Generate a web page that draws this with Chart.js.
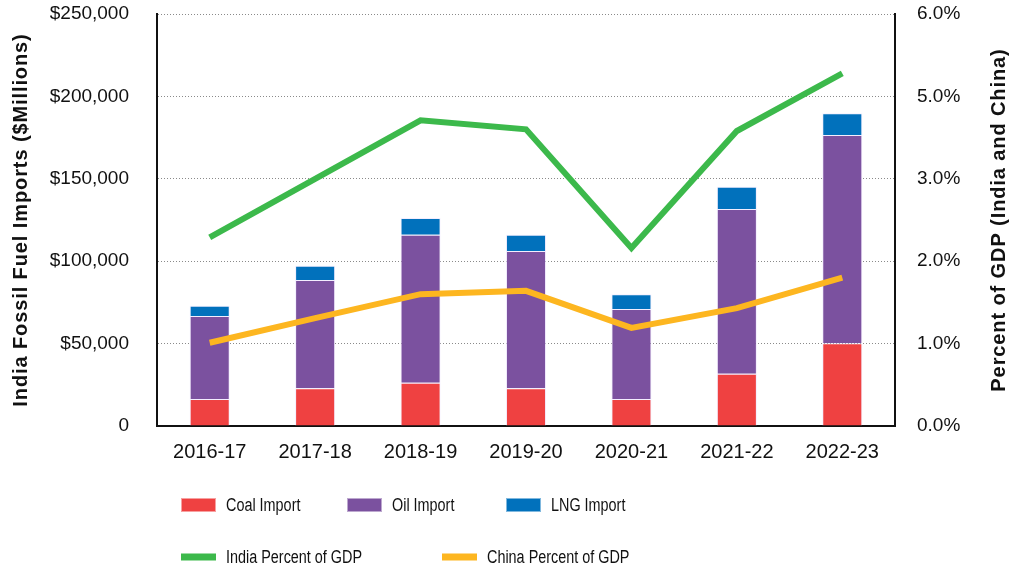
<!DOCTYPE html>
<html>
<head>
<meta charset="utf-8">
<script src="https://cdn.jsdelivr.net/npm/chart.js@4/dist/chart.umd.min.js"></script>
<style>
  html, body { margin: 0; padding: 0; background: #fff; }
  canvas { display: block; }
</style>
</head>
<body>
<canvas id="fuelChart" width="1024" height="575"></canvas>
<script>
// data
const years = ['2016-17', '2017-18', '2018-19', '2019-20', '2020-21', '2021-22', '2022-23']
const coalImport = [16400, 22900, 26300, 22900, 16400, 31700, 50200]
const oilImport = [50300, 65700, 89800, 83300, 54600, 100000, 126400]
const lngImport = [6300, 8700, 10100, 9900, 8900, 13500, 13100]
// right axis is in gridline steps (its labels skip 4.0%)
const indiaGdp = [2.29, 3.0, 3.71, 3.60, 2.16, 3.58, 4.28]
const chinaGdp = [1.01, 1.31, 1.60, 1.64, 1.19, 1.43, 1.80]
const rightTickLabels = ['0.0%', '1.0%', '2.0%', '3.0%', '5.0%', '6.0%']
const leftTitle = 'India Fossil Fuel Imports ($Millions)'
const rightTitle = 'Percent of GDP (India and China)'

const FONT = "'Liberation Sans', Arial, Helvetica, sans-serif"

// start: legend + titles plugin (two legend rows, fixed slots like the original)
const legendSlots = [
    { x: 181, y: 505 },
    { x: 347, y: 505 },
    { x: 506, y: 505 },
    { x: 181, y: 557 },
    { x: 442, y: 557 },
]

function drawVerticalTitle(ctx, text, x, y) {
    ctx.save()
    ctx.translate(x, y)
    ctx.rotate(-Math.PI / 2)
    ctx.fillStyle = '#111'
    ctx.font = 'bold 20px ' + FONT
    ctx.letterSpacing = '0.9px'
    ctx.textAlign = 'center'
    ctx.textBaseline = 'alphabetic'
    ctx.fillText(text, 0, 0)
    ctx.restore()
}

const rowLegend = {
    id: 'rowLegend',
    afterDraw(chart) {
        const ctx = chart.ctx
        ctx.save()
        chart.data.datasets.forEach(function (ds, i) {
            const slot = legendSlots[i]
            if (ds.type === 'line') {
                ctx.fillStyle = ds.borderColor
                ctx.fillRect(slot.x, slot.y - 3.5, 35, 7)
            } else {
                ctx.fillStyle = ds.backgroundColor
                ctx.fillRect(slot.x, slot.y - 7, 35, 14)
                ctx.strokeStyle = 'rgba(255,255,255,0.5)'
                ctx.lineWidth = 1
                ctx.strokeRect(slot.x + 0.5, slot.y - 6.5, 34, 13)
            }
            ctx.save()
            ctx.translate(slot.x + 45, slot.y)
            ctx.scale(0.8, 1)
            ctx.fillStyle = '#111'
            ctx.font = '18px ' + FONT
            ctx.textBaseline = 'middle'
            ctx.textAlign = 'left'
            ctx.fillText(ds.label, 0, 1)
            ctx.restore()
        })
        ctx.restore()

        // both axis titles read bottom-to-top in the original
        const midY = (chart.chartArea.top + chart.chartArea.bottom) / 2
        drawVerticalTitle(ctx, leftTitle, 27, midY)
        drawVerticalTitle(ctx, rightTitle, 1005, midY)
    }
}
// end: legend + titles plugin

const barBorder = 'rgba(235,225,255,0.6)'

new Chart(document.getElementById('fuelChart'), {
    type: 'bar',
    data: {
        labels: years,
        datasets: [
            {
                label: 'Coal Import',
                data: coalImport,
                backgroundColor: '#ef4141',
                borderColor: barBorder,
                borderWidth: 1,
                yAxisID: 'y',
                order: 2
            },
            {
                label: 'Oil Import',
                data: oilImport,
                backgroundColor: '#7b519f',
                borderColor: barBorder,
                borderWidth: 1,
                yAxisID: 'y',
                order: 2
            },
            {
                label: 'LNG Import',
                data: lngImport,
                backgroundColor: '#0171bc',
                borderColor: barBorder,
                borderWidth: 1,
                yAxisID: 'y',
                order: 2
            },
            {
                type: 'line',
                label: 'India Percent of GDP',
                data: indiaGdp,
                borderColor: '#3cb94b',
                backgroundColor: '#3cb94b',
                borderWidth: 6,
                pointRadius: 0,
                tension: 0,
                yAxisID: 'y1',
                order: 0
            },
            {
                type: 'line',
                label: 'China Percent of GDP',
                data: chinaGdp,
                borderColor: '#fdb620',
                backgroundColor: '#fdb620',
                borderWidth: 6,
                pointRadius: 0,
                tension: 0,
                yAxisID: 'y1',
                order: 1
            },
        ]
    },
    options: {
        responsive: false,
        animation: false,
        devicePixelRatio: 1,
        datasets: {
            bar: {
                categoryPercentage: 1,
                barPercentage: 0.38
            }
        },
        layout: {
            padding: { top: 14, left: 0, right: 0, bottom: 0 }
        },
        plugins: {
            legend: { display: false },
            tooltip: { enabled: false }
        },
        scales: {
            x: {
                stacked: true,
                grid: { display: false, drawTicks: false },
                border: { display: true, color: '#111', width: 2 },
                ticks: {
                    color: '#111',
                    font: { family: FONT, size: 20 },
                    padding: 14,
                    maxRotation: 0
                },
                afterFit(scale) { scale.height = 149 }
            },
            y: {
                position: 'left',
                stacked: true,
                min: 0,
                max: 250000,
                grid: {
                    color: '#8a8a8a',
                    lineWidth: 1,
                    drawTicks: true,
                    tickLength: 28,
                    tickColor: 'rgba(0,0,0,0)'
                },
                border: { display: true, color: '#111', width: 2, dash: [1, 2] },
                ticks: {
                    stepSize: 50000,
                    color: '#111',
                    font: { family: FONT, size: 19 },
                    padding: 0,
                    callback: function (v) {
                        return v === 0 ? '0' : '$' + v.toLocaleString('en-US')
                    }
                },
                title: { display: false },
                afterFit(scale) { scale.width = 157 }
            },
            y1: {
                position: 'right',
                stacked: false,
                min: 0,
                max: 5,
                grid: {
                    display: true,
                    drawOnChartArea: false,
                    drawTicks: true,
                    tickLength: 22,
                    tickColor: 'rgba(0,0,0,0)'
                },
                border: { display: true, color: '#111', width: 2 },
                ticks: {
                    stepSize: 1,
                    color: '#111',
                    font: { family: FONT, size: 19 },
                    padding: 0,
                    callback: function (v, i) {
                        return rightTickLabels[i]
                    }
                },
                title: { display: false },
                afterFit(scale) { scale.width = 129 }
            }
        }
    },
    plugins: [rowLegend]
})
</script>
</body>
</html>
